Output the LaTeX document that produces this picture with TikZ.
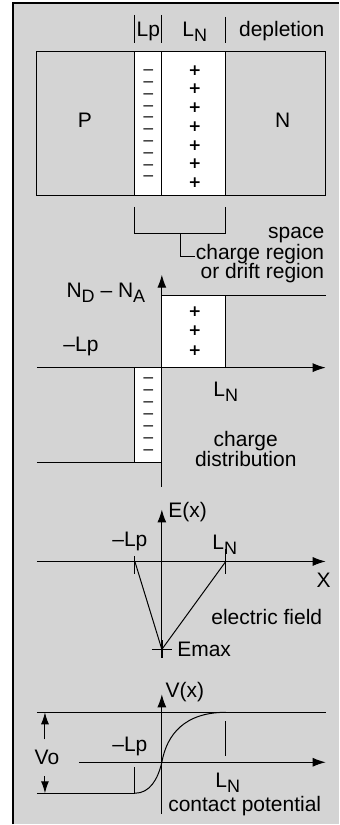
\documentclass[tikz,border=0pt]{standalone}
\usepackage{fontspec}
\setmainfont{Liberation Sans}
\newfontfamily\signfont{DejaVu Sans Bold}
\usetikzlibrary{arrows.meta, positioning, calc}
\definecolor{panelgray}{RGB}{212,212,212}
\newcommand{\lowsub}[1]{\raisebox{-5pt}{\fontsize{18}{20}\selectfont #1}}
\newcommand{\wideminus}{\scalebox{1.55}[1]{−}}

\begin{document}
\begin{tikzpicture}[x=1pt, y=-1pt, line width=1pt,
    lbl/.style={font=\fontsize{21}{24}\selectfont, inner sep=0pt, anchor=base},
    plussign/.style={font=\fontsize{15.5}{17}\signfont, inner sep=0pt},
    minussign/.style={font=\fontsize{10}{11}\signfont, inner sep=0pt},
    axis/.style={-{Latex[length=13pt,width=9pt]}},
    vbar/.style={-{Latex[length=12pt,width=8pt]}}]
    % Panel
    \fill[white] (0,0) rectangle (339,825);
    \fill[panelgray] (13,3) rectangle (339,825);
    \draw[line width=1.6pt] (13,825) -- (13,3) -- (339,3);

    % Junction and depletion layer
    \draw (37,52) rectangle (326,196);
    \filldraw[fill=white] (135,52) rectangle (226,196);
    \draw (162,52) -- (162,196);
    \node[lbl] (p) at (85,128) {P};
    \node[lbl] (n) at (283,128) {N};
    % charge signs
    \foreach \i in {0,...,9}
        \node[minussign] (m\i) at (148.5,{72+\i*11.8}) {\wideminus};
    \foreach \i in {0,...,6}
        \node[plussign] (pl\i) at (195,{70.5+\i*18.7}) {+};
    \draw (135,15) -- (135,43) (162,15) -- (162,43) (226,17) -- (226,43);
    \node[lbl] (lp) at (148.5,37) {Lp};
    \node[lbl] (ln) at (195,37) {L\lowsub{N}};
    \node[lbl] (depl) at (282,37) {depletion};

    % Space charge bracket
    \coordinate (bl) at (135,207);
    \coordinate (br) at (226,207);
    \coordinate (bm) at (180.5,234);
    \draw (bl) |- (bm) -| (br);
    \node[lbl, anchor=base east] (space) at (325,239) {space};
    \node[lbl, anchor=base east] (region) at (325,260) {charge region};
    \node[lbl, anchor=base east] (drift) at (325,279) {or drift region};
    \draw (bm) |- ($(region.west)+(0,2)$);

    % Charge distribution
    \filldraw[fill=white] (162,296) rectangle (226,368);
    \filldraw[fill=white] (135,368) rectangle (162,463);
    \draw (226,296) -- (326,296);
    \draw (37,463) -- (135,463);
    \coordinate (qo) at (162,487);
    \draw[axis] (qo) -- (162,275);
    \draw[axis] (37,368) -- (326,368);
    \foreach \y [count=\k] in {312,331,351}
        \node[plussign] (qp\k) at (195,\y) {+};
    \foreach \i in {0,...,6}
        \node[minussign] (qm\i) at (148.5,{380+\i*12}) {\wideminus};
    \node[lbl] (nd) at (106,298) {N\lowsub{D} – N\lowsub{A}};
    \node[lbl] (qlp) at (81,352) {–Lp};
    \node[lbl] (qln) at (226,397) {L\lowsub{N}};
    \node[lbl] (charge) at (246,447) {charge};
    \node[lbl] (distr) at (246,467) {distribution};

    % Electric field
    \coordinate (elp) at (135,562);
    \coordinate (eln) at (226,562);
    \coordinate (emax) at (162,650);
    \draw[axis] (162,658) -- (162,510);
    \draw[axis] (37,562) -- (326,562);
    \draw (135,557) -- (135,575) (226,550) -- (226,575);
    \draw (elp) -- (emax) -- (eln);
    \draw[line width=1.6pt] (152,650) -- (172,650);
    \draw[line width=1.6pt] (162,641) -- (162,659);
    \node[lbl, anchor=base west] (ex) at (168,518) {E(x)};
    \node[lbl] (elpt) at (130,547) {–Lp};
    \node[lbl] (elnt) at (225,550) {L\lowsub{N}};
    \node[lbl] (xt) at (324,588) {X};
    \node[lbl] (field) at (267,625) {electric field};
    \node[lbl, anchor=base west] (emaxt) at (177,657) {Emax};

    % Contact potential
    \coordinate (vlo) at (135,794);
    \coordinate (vmid) at (162,763);
    \coordinate (vhi) at (226,713);
    \draw[axis] (162,815) -- (162,695);
    \draw[axis] (79,763) -- (326,763);
    \draw (37,713) -- (326,713);
    \draw (37,794) -- (vlo);
    \draw (135,768) -- (vlo);
    \draw (226,722) -- (226,757);
    \draw (vlo) .. controls (150,794) and (158,780) .. (vmid)
          .. controls (167,735) and (185,713) .. (vhi);
    \draw[vbar] (45,740) -- (45,713);
    \draw[vbar] (45,777) -- (45,794);
    \node[lbl] (vx) at (185,698) {V(x)};
    \node[lbl] (vo) at (47,765) {Vo};
    \node[lbl] (vlp) at (130,752) {–Lp};
    \node[lbl] (vln) at (228,788) {L\lowsub{N}};
    \node[lbl, anchor=base west] (contact) at (168,812) {contact potential};
\end{tikzpicture}
\end{document}
